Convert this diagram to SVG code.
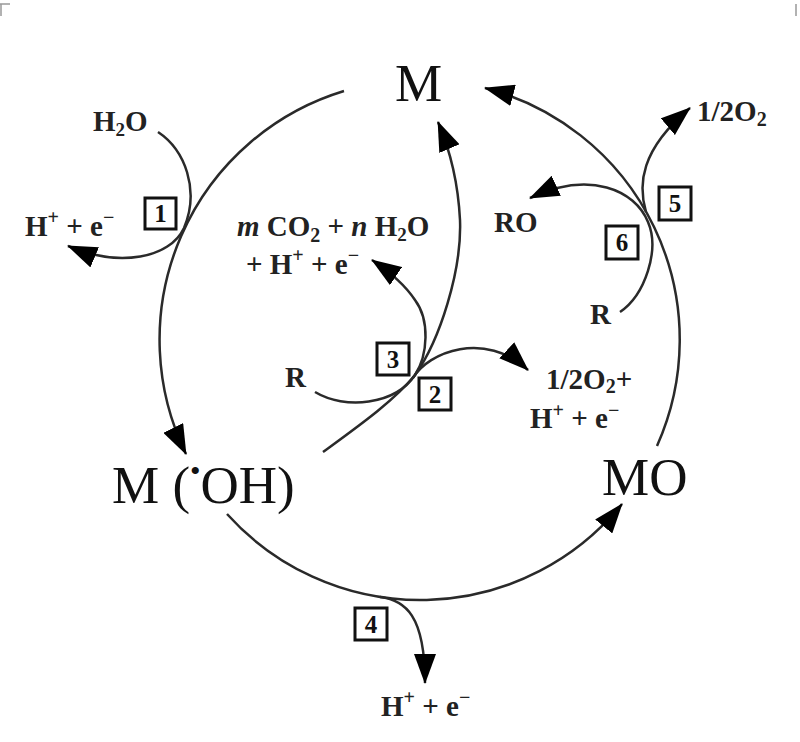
<svg xmlns="http://www.w3.org/2000/svg" width="800" height="742" viewBox="0 0 800 742">
<defs>
<marker id="ah" viewBox="0 0 30 22" refX="29" refY="11" markerWidth="30" markerHeight="22" markerUnits="userSpaceOnUse" orient="auto">
<path d="M0,0 L30,11 L0,22 z" fill="#000"/>
</marker>
<style>
.ln{fill:none;stroke:#2a2a2a;stroke-width:2.5}
.ar{marker-end:url(#ah)}
.big{font-family:"Liberation Serif","Times New Roman",serif;font-size:53px;fill:#111}
.sm{font-family:"Liberation Serif","Times New Roman",serif;font-size:29px;font-weight:bold;fill:#222}
.box{fill:#fff;stroke:#111;stroke-width:3}
.num{font-family:"Liberation Serif","Times New Roman",serif;font-size:25px;font-weight:bold;fill:#111;text-anchor:middle}
.mark{stroke:#999;stroke-width:1.5}
</style>
</defs>
<rect width="800" height="742" fill="#fff"/>
<g id="marks">
<line class="mark" x1="0" y1="4" x2="10" y2="4"/>
<line class="mark" x1="1" y1="4" x2="1" y2="16"/>
<line class="mark" x1="796" y1="4" x2="796" y2="16"/>
</g>
<g id="connectors">
<path id="c-M-MOH" class="ln ar" d="M344 91 A260 260 0 0 0 186 454"/>
<path id="c-MOH-MO" class="ln ar" d="M227 514 A260 260 0 0 0 622 504"/>
<path id="c-MO-M" class="ln ar" d="M657 446 A260 260 0 0 0 485 88"/>
<path id="c-r1" class="ln ar" d="M158 132 C185 150 200 190 184 228 C170 258 120 268 68 246"/>
<path id="c-MOH-M" class="ln ar" d="M323 452 C360 425 395 400 415 375 C440 340 462 270 460 220 C458 180 450 150 438 122"/>
<path id="c-r3" class="ln ar" d="M315 392 C345 410 395 405 415 375 C428 355 430 320 415 300 C405 285 390 272 372 260"/>
<path id="c-r2" class="ln ar" d="M413 378 C428 352 485 330 528 370"/>
<path id="c-r4" class="ln ar" d="M380 597 C405 600 425 615 425 683"/>
<path id="c-r5" class="ln ar" d="M646 212 C638 185 640 150 690 108"/>
<path id="c-r6" class="ln ar" d="M620 312 C645 295 660 250 648 222 C635 190 590 170 530 198"/>
</g>
<g id="node-M"><text class="big" x="395" y="101">M</text></g>
<g id="node-MOH"><text class="big" x="112" y="503">M (<tspan font-size="30" dy="-22">•</tspan><tspan dy="22">OH)</tspan></text></g>
<g id="node-MO"><text class="big" x="602" y="495">MO</text></g>
<g id="label-H2O"><text class="sm" x="93" y="131">H<tspan font-size="19" dy="5">2</tspan><tspan dy="-5">O</tspan></text></g>
<g id="label-He-1"><text class="sm" x="25" y="236">H<tspan font-size="20" dy="-12">+</tspan><tspan dy="12"> + e</tspan><tspan font-size="20" dy="-12">−</tspan></text></g>
<g id="label-CO2"><text class="sm" x="237" y="236"><tspan font-style="italic">m</tspan> CO<tspan font-size="20" dy="6">2</tspan><tspan dy="-6"> + </tspan><tspan font-style="italic">n</tspan> H<tspan font-size="19" dy="5">2</tspan><tspan dy="-5">O</tspan></text>
<text class="sm" x="246" y="274">+ H<tspan font-size="20" dy="-12">+</tspan><tspan dy="12"> + e</tspan><tspan font-size="20" dy="-12">−</tspan></text></g>
<g id="label-R-1"><text class="sm" x="285" y="387">R</text></g>
<g id="label-O2-2"><text class="sm" x="546" y="389">1/2O<tspan font-size="20" dy="4">2</tspan><tspan dy="-4">+</tspan></text>
<text class="sm" x="530" y="428">H<tspan font-size="20" dy="-11">+</tspan><tspan dy="11"> + e</tspan><tspan font-size="20" dy="-11">−</tspan></text></g>
<g id="label-O2-5"><text class="sm" x="697" y="121">1/2O<tspan font-size="20" dy="5">2</tspan></text></g>
<g id="label-RO"><text class="sm" x="494" y="232">RO</text></g>
<g id="label-R-2"><text class="sm" x="590" y="324">R</text></g>
<g id="label-He-4"><text class="sm" x="381" y="716">H<tspan font-size="20" dy="-12">+</tspan><tspan dy="12"> + e</tspan><tspan font-size="20" dy="-12">−</tspan></text></g>
<g id="box-1"><rect class="box" x="145" y="198" width="31" height="31"/><text class="num" x="160.5" y="222">1</text></g>
<g id="box-3"><rect class="box" x="377" y="343" width="32" height="32"/><text class="num" x="393" y="368">3</text></g>
<g id="box-2"><rect class="box" x="419" y="378" width="32" height="32"/><text class="num" x="435" y="403">2</text></g>
<g id="box-4"><rect class="box" x="355" y="608" width="32" height="32"/><text class="num" x="371" y="633">4</text></g>
<g id="box-5"><rect class="box" x="659" y="187" width="32" height="33"/><text class="num" x="675" y="212">5</text></g>
<g id="box-6"><rect class="box" x="606" y="226" width="32" height="33"/><text class="num" x="622" y="251">6</text></g>
</svg>
